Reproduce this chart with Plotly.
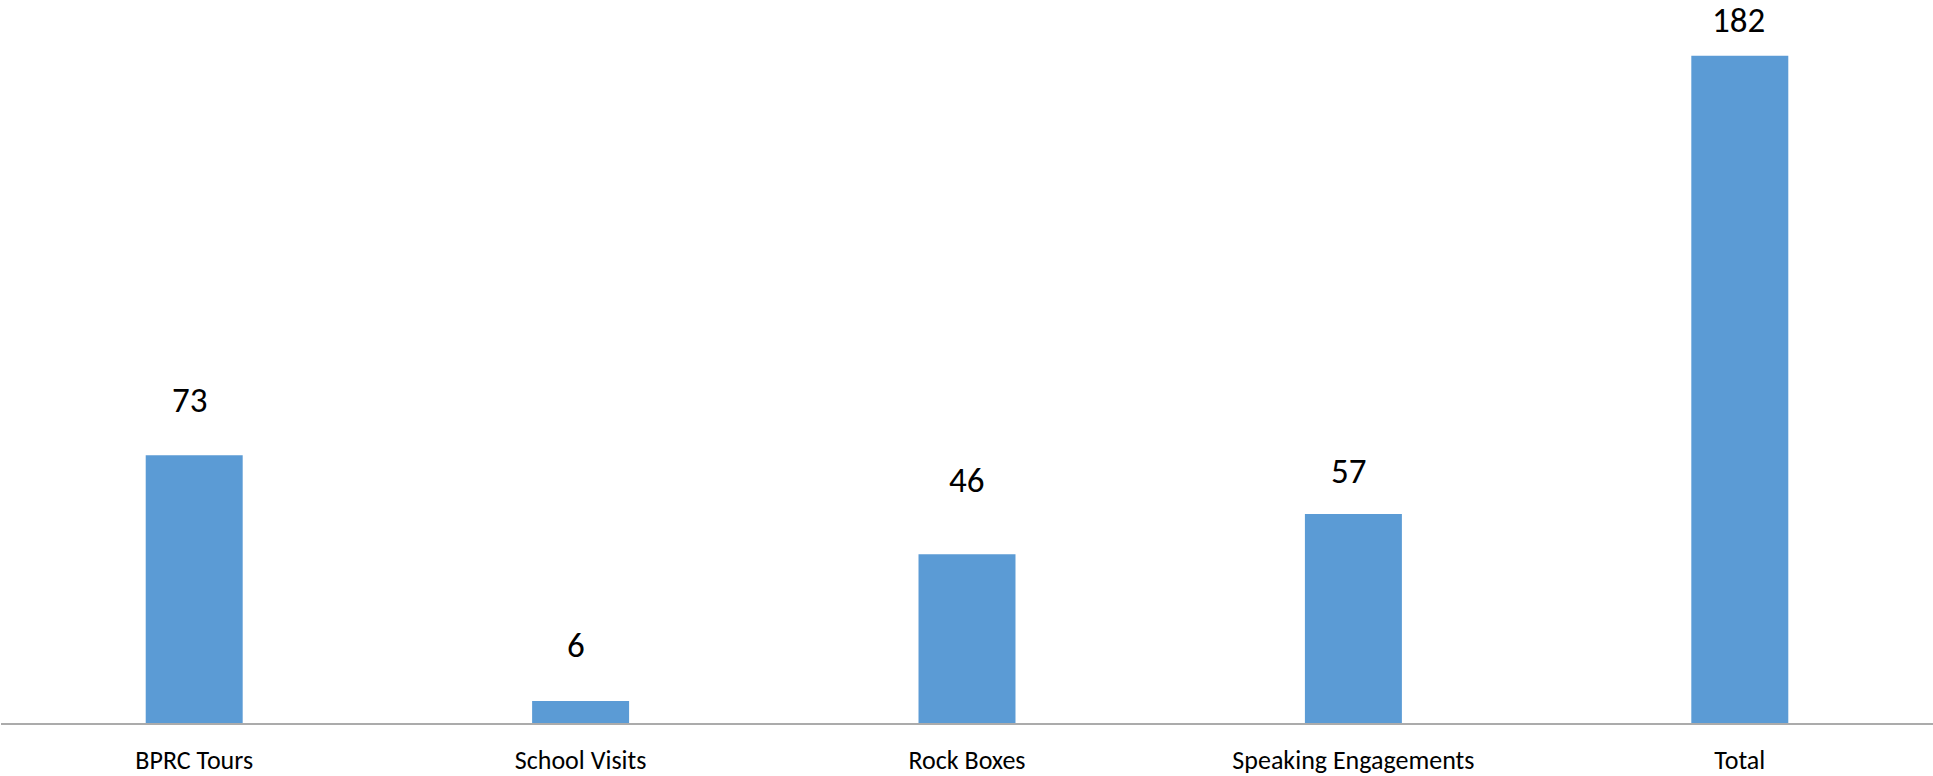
import plotly.graph_objects as go

categories = ["BPRC Tours", "School Visits", "Rock Boxes", "Speaking Engagements", "Total"]
values = [73, 6, 46, 57, 182]

# styling: per-label pixel nudges of the data labels (as placed in the original)
label_yshift = [55, 56, 74, 43, 36]
label_xshift = [-5, -5, -1, -5, -1]

FONT = "Carlito, Calibri, Lato, sans-serif"

fig = go.Figure()
fig.add_trace(go.Bar(
    x=categories, y=values,
    marker=dict(color="#5b9bd5", line=dict(width=0)),
    hoverinfo="x+y",
))

for c, v, dy, dx in zip(categories, values, label_yshift, label_xshift):
    fig.add_annotation(x=c, y=v, text=str(v), showarrow=False,
                       xanchor="center", yanchor="middle",
                       yshift=dy, xshift=dx,
                       font=dict(family=FONT, size=35, color="#000000"))

fig.update_layout(
    width=1933, height=776,
    margin=dict(l=1, r=0, t=0, b=48),
    paper_bgcolor="white", plot_bgcolor="white",
    bargap=0.749,
    showlegend=False,
    font=dict(family=FONT, color="#000000"),
)
fig.update_xaxes(
    showline=True, linecolor="#ababab", linewidth=2,
    showgrid=False, ticks="", zeroline=False,
    ticklabelstandoff=13,
    tickfont=dict(family=FONT, size=26, color="#000000"),
)
fig.update_yaxes(
    range=[0, 197.2], visible=False, showgrid=False, zeroline=False,
)

fig.write_html("out.html",
               config={"displayModeBar": False},
               post_script="document.body.style.margin='0';document.body.style.overflow='hidden';")
